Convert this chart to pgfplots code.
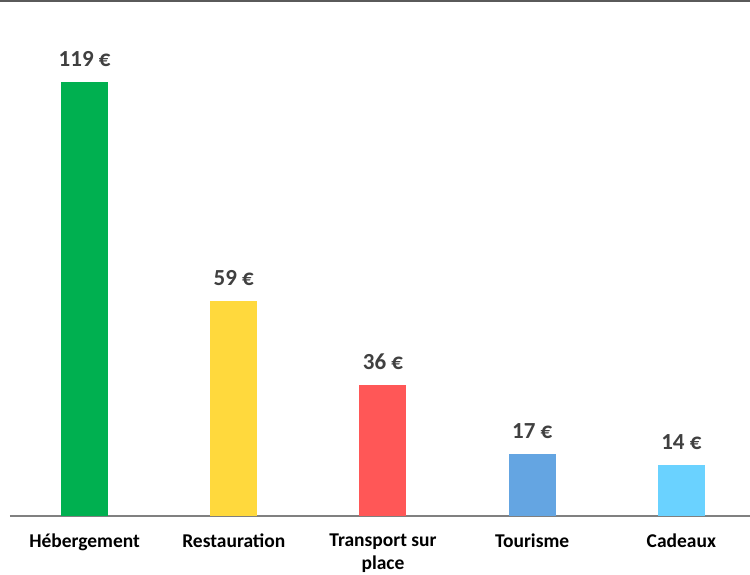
\documentclass[border=0pt]{standalone}
\usepackage{pgfplots}
\pgfplotsset{compat=1.18}
\usepackage{fontspec}
\setmainfont{Carlito}
\definecolor{topgray}{HTML}{5A5A5A}
\definecolor{axisgray}{HTML}{808080}
\definecolor{labelgray}{HTML}{404040}
\definecolor{cgreen}{HTML}{00B050}
\definecolor{cyellow}{HTML}{FFD93D}
\definecolor{cred}{HTML}{FF5757}
\definecolor{cblue}{HTML}{64A5E2}
\definecolor{ccyan}{HTML}{6AD2FF}
\begin{document}
\begin{tikzpicture}[x=1pt,y=1pt]
\path[use as bounding box] (0,0) rectangle (750,574);
\draw[topgray, line width=2pt] (0,573) -- (750,573);
\begin{axis}[
    at={(10pt,58pt)}, anchor=south west,
    width=740pt, height=510.6pt, scale only axis,
    xmin=-0.5, xmax=4.46, ymin=0, ymax=140,
    ybar, bar width=47pt,
    hide y axis,
    axis x line*=bottom,
    x axis line style={draw=axisgray, line width=2pt},
    xtick={0,1,2,3,4},
    xticklabels={Hébergement,Restauration,Transport sur\\place,Tourisme,Cadeaux},
    xticklabel style={align=center, font=\fontsize{19.5}{23.5}\selectfont\bfseries, text=black, yshift=-14pt},
    major tick length=0pt,
    clip=false,
    point meta=explicit symbolic,
    nodes near coords,
    nodes near coords style={font=\fontsize{23}{27}\selectfont\bfseries, text=labelgray, yshift=12pt},
]
\addplot[fill=cgreen, draw=none, bar shift=0pt] coordinates {(0,119) [119 €]};
\addplot[fill=cyellow, draw=none, bar shift=0pt] coordinates {(1,59) [59 €]};
\addplot[fill=cred, draw=none, bar shift=0pt] coordinates {(2,36) [36 €]};
\addplot[fill=cblue, draw=none, bar shift=0pt] coordinates {(3,17) [17 €]};
\addplot[fill=ccyan, draw=none, bar shift=0pt] coordinates {(4,14) [14 €]};
\end{axis}
\end{tikzpicture}
\end{document}
